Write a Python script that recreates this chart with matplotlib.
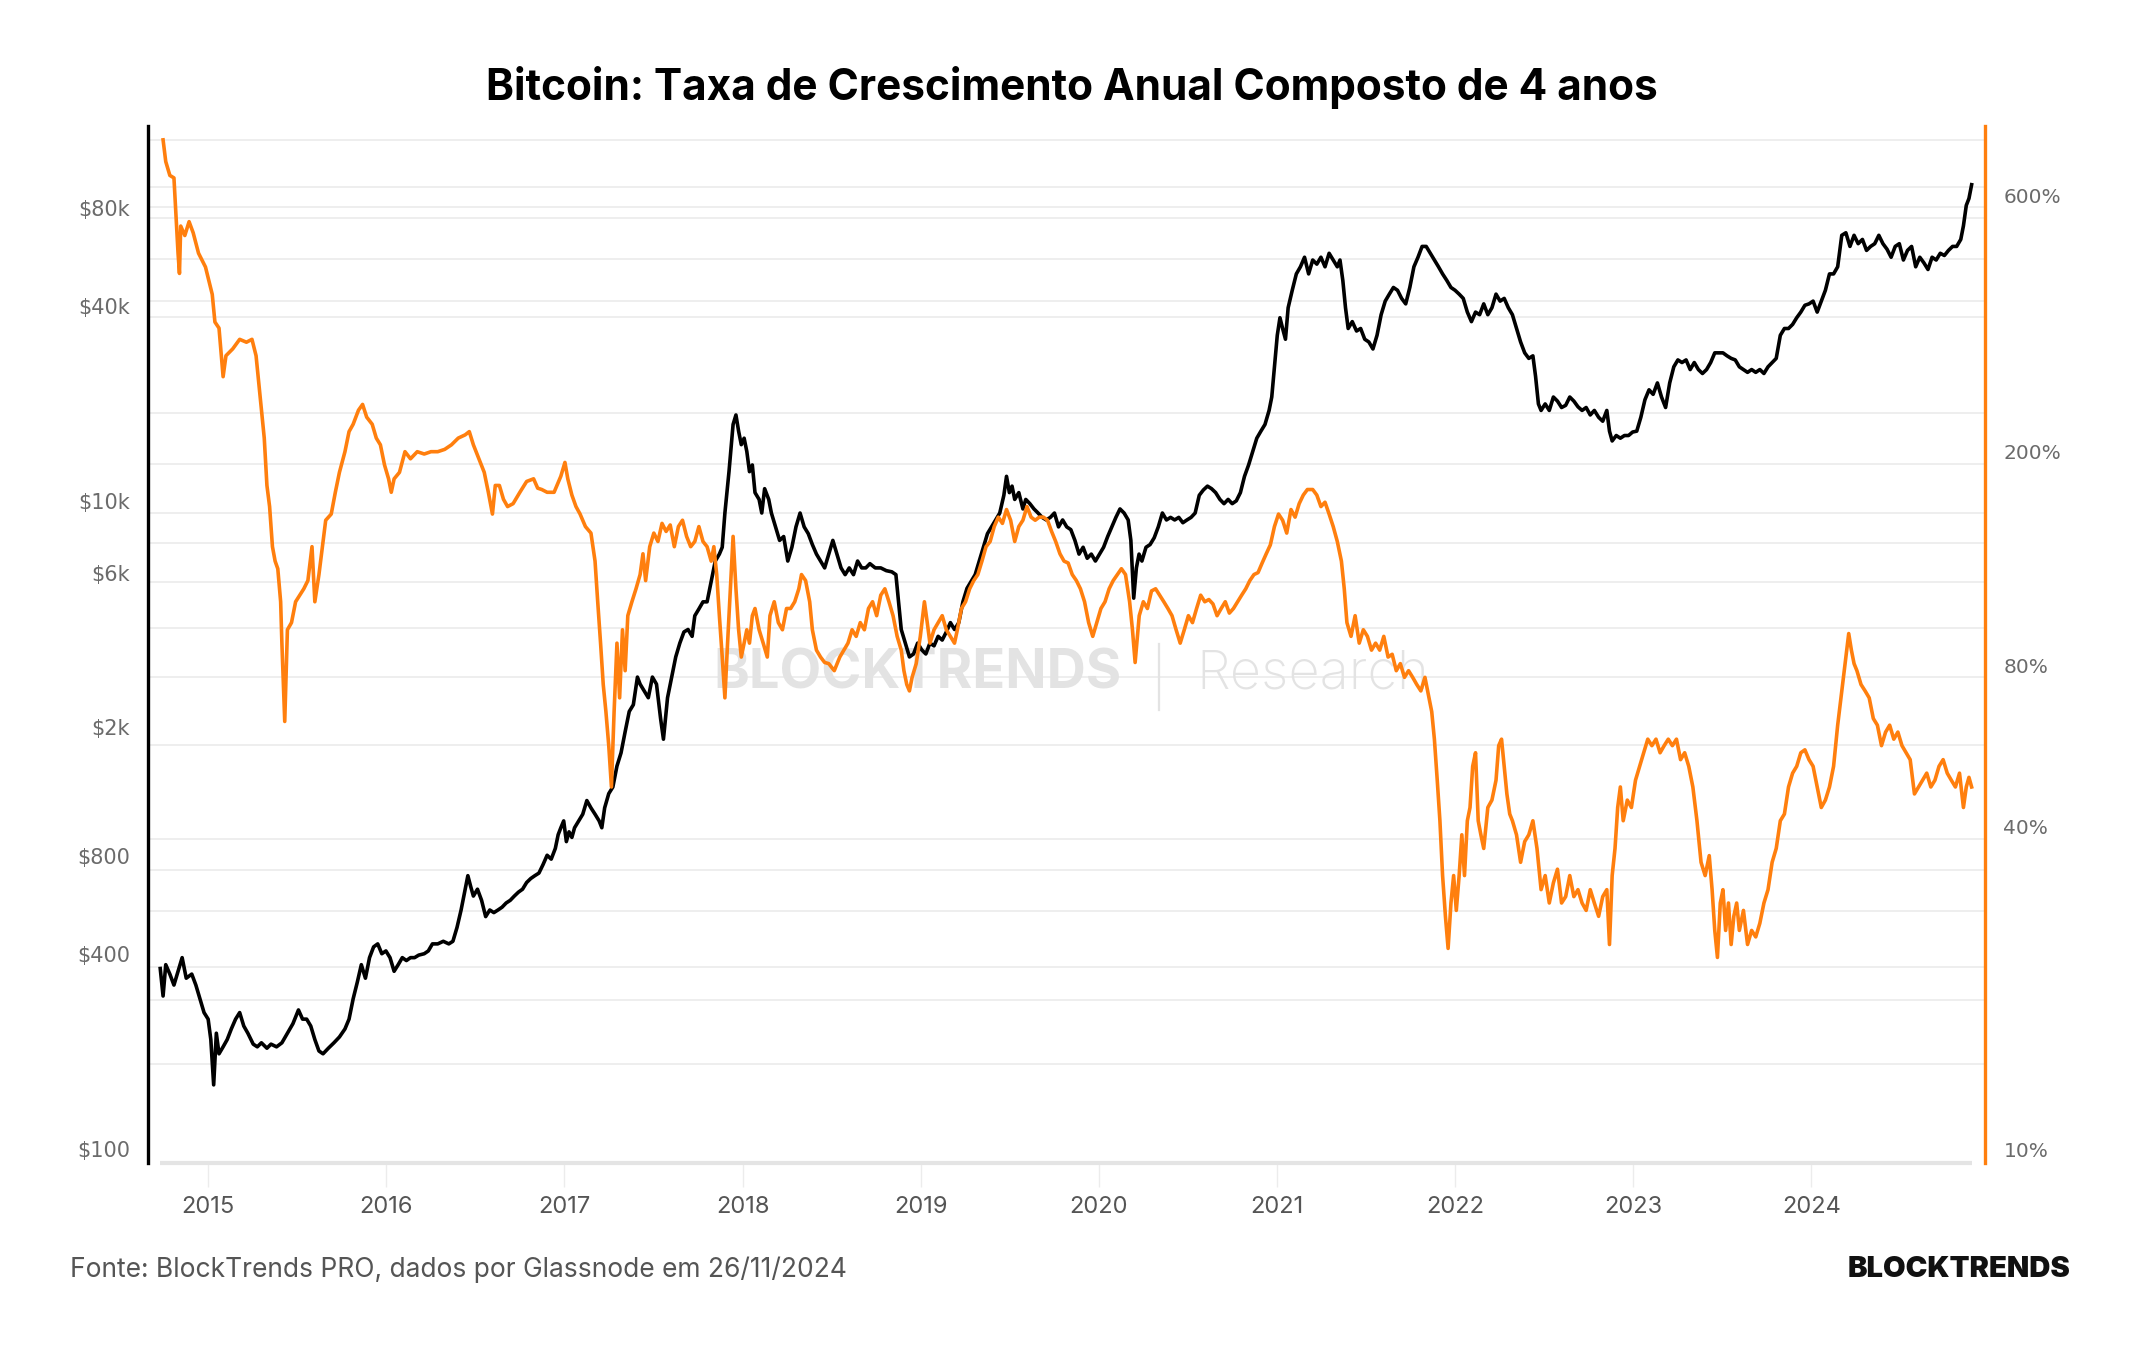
import matplotlib
matplotlib.use("Agg")
import matplotlib.pyplot as plt
from matplotlib.lines import Line2D

# ---------------- data ----------------
btc_dates = [2014.731, 2014.747, 2014.762, 2014.785, 2014.808, 2014.831, 2014.854, 2014.877, 2014.908, 2014.931,
             2014.954, 2014.977, 2015.000, 2015.015, 2015.031, 2015.046, 2015.061, 2015.084, 2015.107, 2015.130,
             2015.154, 2015.177, 2015.200, 2015.223, 2015.253, 2015.276, 2015.299, 2015.330, 2015.353, 2015.384,
             2015.414, 2015.445, 2015.476, 2015.507, 2015.530, 2015.553, 2015.576, 2015.599, 2015.622, 2015.645,
             2015.675, 2015.706, 2015.737, 2015.768, 2015.791, 2015.814, 2015.837, 2015.860, 2015.883, 2015.906,
             2015.929, 2015.952, 2015.975, 2015.998, 2016.021, 2016.044, 2016.067, 2016.090, 2016.113, 2016.136,
             2016.159, 2016.182, 2016.213, 2016.236, 2016.259, 2016.289, 2016.320, 2016.351, 2016.374, 2016.397,
             2016.420, 2016.443, 2016.458, 2016.474, 2016.489, 2016.512, 2016.535, 2016.558, 2016.581, 2016.604,
             2016.627, 2016.650, 2016.673, 2016.696, 2016.719, 2016.742, 2016.765, 2016.788, 2016.811, 2016.834,
             2016.857, 2016.880, 2016.903, 2016.926, 2016.949, 2016.965, 2016.980, 2016.996, 2017.011, 2017.026,
             2017.042, 2017.057, 2017.080, 2017.103, 2017.126, 2017.149, 2017.172, 2017.195, 2017.210, 2017.226,
             2017.249, 2017.272, 2017.295, 2017.318, 2017.341, 2017.364, 2017.387, 2017.410, 2017.425, 2017.448,
             2017.471, 2017.494, 2017.517, 2017.540, 2017.556, 2017.579, 2017.602, 2017.625, 2017.648, 2017.671,
             2017.694, 2017.717, 2017.732, 2017.755, 2017.778, 2017.801, 2017.824, 2017.847, 2017.870, 2017.886,
             2017.901, 2017.924, 2017.947, 2017.963, 2017.978, 2017.993, 2018.009, 2018.024, 2018.039, 2018.055,
             2018.070, 2018.093, 2018.108, 2018.124, 2018.147, 2018.162, 2018.185, 2018.208, 2018.231, 2018.254,
             2018.277, 2018.300, 2018.323, 2018.346, 2018.369, 2018.392, 2018.415, 2018.438, 2018.461, 2018.484,
             2018.507, 2018.530, 2018.553, 2018.576, 2018.599, 2018.623, 2018.646, 2018.669, 2018.692, 2018.715,
             2018.745, 2018.776, 2018.807, 2018.838, 2018.861, 2018.876, 2018.891, 2018.914, 2018.937, 2018.960,
             2018.983, 2019.006, 2019.029, 2019.052, 2019.075, 2019.098, 2019.121, 2019.144, 2019.167, 2019.190,
             2019.214, 2019.237, 2019.260, 2019.283, 2019.306, 2019.329, 2019.352, 2019.375, 2019.398, 2019.421,
             2019.444, 2019.467, 2019.482, 2019.498, 2019.513, 2019.528, 2019.551, 2019.574, 2019.590, 2019.613,
             2019.636, 2019.659, 2019.682, 2019.705, 2019.728, 2019.751, 2019.774, 2019.797, 2019.820, 2019.843,
             2019.866, 2019.889, 2019.912, 2019.935, 2019.958, 2019.981, 2020.004, 2020.027, 2020.050, 2020.073,
             2020.096, 2020.119, 2020.142, 2020.165, 2020.180, 2020.196, 2020.211, 2020.226, 2020.242, 2020.265,
             2020.288, 2020.311, 2020.334, 2020.357, 2020.380, 2020.403, 2020.426, 2020.449, 2020.472, 2020.495,
             2020.518, 2020.541, 2020.564, 2020.587, 2020.610, 2020.633, 2020.656, 2020.680, 2020.703, 2020.726,
             2020.749, 2020.772, 2020.795, 2020.818, 2020.841, 2020.864, 2020.887, 2020.910, 2020.933, 2020.956,
             2020.971, 2020.986, 2021.002, 2021.017, 2021.032, 2021.048, 2021.063, 2021.086, 2021.109, 2021.132,
             2021.155, 2021.178, 2021.201, 2021.224, 2021.247, 2021.270, 2021.293, 2021.316, 2021.339, 2021.354,
             2021.370, 2021.385, 2021.400, 2021.423, 2021.447, 2021.470, 2021.493, 2021.516, 2021.539, 2021.562,
             2021.585, 2021.608, 2021.631, 2021.654, 2021.677, 2021.700, 2021.723, 2021.746, 2021.769, 2021.792,
             2021.815, 2021.838, 2021.861, 2021.884, 2021.907, 2021.930, 2021.954, 2021.977, 2022.000, 2022.023,
             2022.046, 2022.069, 2022.092, 2022.115, 2022.138, 2022.161, 2022.184, 2022.207, 2022.230, 2022.253,
             2022.276, 2022.299, 2022.322, 2022.345, 2022.368, 2022.391, 2022.414, 2022.437, 2022.452, 2022.468,
             2022.483, 2022.506, 2022.529, 2022.552, 2022.575, 2022.598, 2022.621, 2022.644, 2022.667, 2022.690,
             2022.713, 2022.736, 2022.759, 2022.782, 2022.806, 2022.829, 2022.852, 2022.867, 2022.882, 2022.905,
             2022.928, 2022.951, 2022.974, 2022.997, 2023.020, 2023.043, 2023.066, 2023.089, 2023.112, 2023.136,
             2023.159, 2023.182, 2023.205, 2023.228, 2023.251, 2023.274, 2023.297, 2023.320, 2023.343, 2023.366,
             2023.389, 2023.412, 2023.435, 2023.458, 2023.481, 2023.504, 2023.527, 2023.550, 2023.573, 2023.596,
             2023.619, 2023.642, 2023.665, 2023.688, 2023.711, 2023.734, 2023.757, 2023.780, 2023.803, 2023.826,
             2023.849, 2023.872, 2023.895, 2023.918, 2023.941, 2023.964, 2023.987, 2024.010, 2024.033, 2024.056,
             2024.079, 2024.102, 2024.125, 2024.148, 2024.171, 2024.194, 2024.217, 2024.240, 2024.263, 2024.287,
             2024.310, 2024.333, 2024.356, 2024.379, 2024.402, 2024.425, 2024.448, 2024.471, 2024.494, 2024.517,
             2024.540, 2024.563, 2024.586, 2024.609, 2024.632, 2024.655, 2024.678, 2024.701, 2024.724, 2024.747,
             2024.770, 2024.793, 2024.816, 2024.839, 2024.854, 2024.870, 2024.885, 2024.900]

btc_price = [361, 297, 371, 347, 321, 354, 390, 337, 347, 321,
             291, 264, 252, 218, 158, 228, 197, 207, 218, 235,
             252, 264, 240, 228, 211, 207, 213, 205, 211, 207,
             213, 228, 244, 269, 252, 252, 240, 218, 201, 197,
             205, 213, 222, 235, 252, 291, 327, 371, 337, 390,
             421, 430, 401, 409, 390, 354, 371, 390, 382, 390,
             390, 397, 401, 409, 430, 430, 438, 430, 438, 483,
             547, 634, 698, 646, 604, 634, 586, 522, 547, 537,
             547, 558, 575, 586, 604, 621, 634, 665, 684, 698,
             711, 755, 807, 785, 847, 934, 981, 1030, 889, 953,
             916, 981, 1030, 1080, 1190, 1130, 1080, 1030, 981, 1130,
             1250, 1310, 1520, 1670, 1940, 2240, 2350, 2860, 2720, 2590,
             2470, 2860, 2720, 2130, 1840, 2470, 2860, 3300, 3640, 3940,
             4010, 3820, 4420, 4640, 4880, 4880, 5640, 6520, 6850, 7190,
             9170, 12300, 17200, 18400, 16400, 14900, 15600, 14200, 12300, 12900,
             10600, 10100, 9170, 10900, 10100, 9170, 8310, 7550, 7760, 6520,
             7190, 8310, 9170, 8310, 7920, 7330, 6850, 6520, 6210, 6850,
             7550, 6850, 6210, 5920, 6210, 5920, 6520, 6210, 6210, 6400,
             6210, 6210, 6090, 6040, 5920, 4880, 4010, 3640, 3300, 3370,
             3640, 3470, 3370, 3640, 3570, 3820, 3720, 3940, 4210, 4010,
             4210, 4880, 5370, 5640, 5920, 6520, 7190, 7920, 8310, 8730,
             9170, 10400, 11900, 10600, 11100, 10100, 10600, 9440, 10100, 9800,
             9440, 9170, 8890, 8730, 8890, 9170, 8310, 8730, 8310, 8150,
             7550, 6850, 7190, 6650, 6850, 6520, 6850, 7190, 7760, 8310,
             8890, 9440, 9170, 8730, 7550, 5010, 6210, 6850, 6520, 7190,
             7330, 7690, 8310, 9170, 8730, 8890, 8730, 8890, 8560, 8730,
             8890, 9170, 10400, 10800, 11100, 10900, 10600, 10100, 9800, 10100,
             9800, 10000, 10600, 11900, 12900, 14200, 15600, 16400, 17200, 19000,
             20900, 25900, 32400, 36700, 34000, 31500, 39400, 44600, 50100, 52700,
             56400, 50100, 55300, 53700, 56400, 52700, 58000, 55300, 52700, 55300,
             47800, 39400, 34000, 35700, 33400, 34000, 31500, 30900, 29400, 32400,
             37500, 41300, 43400, 45500, 44600, 42100, 40500, 45500, 52700, 56400,
             60900, 60900, 58000, 55300, 52700, 50100, 47800, 45500, 44600, 43400,
             42100, 38200, 35700, 38200, 37500, 40500, 37500, 39400, 43400, 41300,
             42100, 39400, 37500, 34000, 30900, 28600, 27500, 28000, 24200, 19900,
             19000, 19900, 19000, 20900, 20300, 19400, 19700, 20900, 20300, 19500,
             19000, 19400, 18400, 19000, 18100, 17600, 19000, 16400, 15300, 15900,
             15600, 15900, 15900, 16300, 16400, 18100, 20500, 22000, 21300, 23100,
             20900, 19400, 23100, 25900, 27200, 26700, 27200, 25400, 26700, 25400,
             24700, 25400, 26700, 28600, 28600, 28600, 28000, 27500, 27200, 25900,
             25400, 24900, 25400, 24900, 25400, 24700, 25900, 26700, 27500, 32400,
             34000, 34000, 35000, 36700, 38200, 40100, 40500, 41300, 38200, 41300,
             44600, 50100, 50100, 52700, 65900, 67100, 60900, 65900, 62100, 64000,
             59200, 60900, 62100, 65900, 62100, 59700, 56400, 60900, 62100, 55300,
             59200, 60900, 52700, 56400, 54200, 51700, 56400, 55300, 58000, 57100,
             59200, 60900, 60900, 64000, 70500, 81500, 85600, 94400]

cagr_dates = [2014.747, 2014.762, 2014.785, 2014.808, 2014.831, 2014.839, 2014.846, 2014.869, 2014.893, 2014.916,
              2014.946, 2014.985, 2015.023, 2015.038, 2015.061, 2015.084, 2015.100, 2015.138, 2015.177, 2015.215,
              2015.246, 2015.269, 2015.292, 2015.315, 2015.330, 2015.345, 2015.361, 2015.376, 2015.391, 2015.407,
              2015.414, 2015.430, 2015.445, 2015.468, 2015.491, 2015.514, 2015.537, 2015.560, 2015.583, 2015.599,
              2015.622, 2015.645, 2015.660, 2015.691, 2015.714, 2015.737, 2015.768, 2015.791, 2015.814, 2015.844,
              2015.867, 2015.890, 2015.921, 2015.944, 2015.967, 2015.990, 2016.013, 2016.028, 2016.044, 2016.074,
              2016.105, 2016.136, 2016.174, 2016.213, 2016.251, 2016.289, 2016.328, 2016.366, 2016.404, 2016.443,
              2016.466, 2016.489, 2016.520, 2016.550, 2016.573, 2016.596, 2016.612, 2016.635, 2016.658, 2016.681,
              2016.712, 2016.750, 2016.788, 2016.827, 2016.850, 2016.873, 2016.903, 2016.942, 2016.980, 2017.003,
              2017.019, 2017.042, 2017.065, 2017.088, 2017.118, 2017.149, 2017.172, 2017.187, 2017.203, 2017.218,
              2017.233, 2017.249, 2017.264, 2017.279, 2017.295, 2017.310, 2017.326, 2017.341, 2017.356, 2017.379,
              2017.402, 2017.425, 2017.441, 2017.456, 2017.479, 2017.502, 2017.525, 2017.548, 2017.571, 2017.594,
              2017.617, 2017.640, 2017.663, 2017.686, 2017.709, 2017.732, 2017.755, 2017.778, 2017.801, 2017.824,
              2017.839, 2017.855, 2017.870, 2017.886, 2017.901, 2017.916, 2017.932, 2017.947, 2017.963, 2017.978,
              2017.993, 2018.009, 2018.024, 2018.039, 2018.055, 2018.070, 2018.093, 2018.116, 2018.139, 2018.154,
              2018.178, 2018.201, 2018.224, 2018.247, 2018.270, 2018.293, 2018.316, 2018.331, 2018.354, 2018.377,
              2018.392, 2018.415, 2018.438, 2018.461, 2018.484, 2018.515, 2018.546, 2018.569, 2018.592, 2018.615,
              2018.638, 2018.661, 2018.684, 2018.707, 2018.730, 2018.753, 2018.776, 2018.799, 2018.822, 2018.845,
              2018.868, 2018.891, 2018.906, 2018.922, 2018.937, 2018.952, 2018.975, 2018.998, 2019.021, 2019.037,
              2019.052, 2019.075, 2019.098, 2019.121, 2019.144, 2019.167, 2019.190, 2019.206, 2019.229, 2019.252,
              2019.275, 2019.298, 2019.321, 2019.344, 2019.367, 2019.390, 2019.413, 2019.436, 2019.459, 2019.482,
              2019.505, 2019.528, 2019.551, 2019.574, 2019.597, 2019.620, 2019.643, 2019.666, 2019.689, 2019.712,
              2019.735, 2019.758, 2019.782, 2019.805, 2019.828, 2019.851, 2019.874, 2019.897, 2019.920, 2019.943,
              2019.966, 2019.989, 2020.012, 2020.035, 2020.058, 2020.081, 2020.104, 2020.127, 2020.150, 2020.173,
              2020.189, 2020.204, 2020.227, 2020.250, 2020.273, 2020.296, 2020.319, 2020.342, 2020.365, 2020.388,
              2020.411, 2020.434, 2020.457, 2020.480, 2020.503, 2020.526, 2020.549, 2020.572, 2020.595, 2020.618,
              2020.641, 2020.664, 2020.687, 2020.710, 2020.733, 2020.756, 2020.779, 2020.802, 2020.825, 2020.848,
              2020.871, 2020.894, 2020.917, 2020.940, 2020.963, 2020.986, 2021.009, 2021.032, 2021.055, 2021.079,
              2021.102, 2021.125, 2021.148, 2021.171, 2021.201, 2021.224, 2021.247, 2021.270, 2021.293, 2021.316,
              2021.339, 2021.362, 2021.378, 2021.393, 2021.416, 2021.439, 2021.462, 2021.485, 2021.508, 2021.531,
              2021.554, 2021.577, 2021.600, 2021.624, 2021.647, 2021.670, 2021.693, 2021.716, 2021.739, 2021.762,
              2021.785, 2021.808, 2021.831, 2021.854, 2021.869, 2021.884, 2021.900, 2021.915, 2021.930, 2021.946,
              2021.961, 2021.977, 2021.992, 2022.007, 2022.023, 2022.038, 2022.053, 2022.069, 2022.084, 2022.099,
              2022.115, 2022.130, 2022.145, 2022.161, 2022.184, 2022.207, 2022.230, 2022.245, 2022.261, 2022.276,
              2022.291, 2022.307, 2022.322, 2022.345, 2022.368, 2022.391, 2022.414, 2022.437, 2022.460, 2022.483,
              2022.506, 2022.529, 2022.552, 2022.575, 2022.598, 2022.621, 2022.644, 2022.667, 2022.690, 2022.713,
              2022.736, 2022.759, 2022.782, 2022.806, 2022.829, 2022.852, 2022.867, 2022.882, 2022.898, 2022.913,
              2022.928, 2022.944, 2022.967, 2022.990, 2023.013, 2023.036, 2023.059, 2023.082, 2023.105, 2023.128,
              2023.151, 2023.174, 2023.197, 2023.220, 2023.243, 2023.266, 2023.289, 2023.312, 2023.335, 2023.358,
              2023.381, 2023.404, 2023.427, 2023.443, 2023.458, 2023.473, 2023.489, 2023.504, 2023.519, 2023.535,
              2023.550, 2023.565, 2023.581, 2023.596, 2023.619, 2023.642, 2023.665, 2023.688, 2023.711, 2023.734,
              2023.757, 2023.780, 2023.803, 2023.826, 2023.849, 2023.872, 2023.895, 2023.918, 2023.941, 2023.964,
              2023.987, 2024.010, 2024.033, 2024.056, 2024.079, 2024.102, 2024.125, 2024.148, 2024.171, 2024.194,
              2024.210, 2024.225, 2024.240, 2024.256, 2024.279, 2024.302, 2024.325, 2024.348, 2024.371, 2024.394,
              2024.417, 2024.440, 2024.463, 2024.486, 2024.509, 2024.532, 2024.555, 2024.579, 2024.602, 2024.625,
              2024.648, 2024.671, 2024.694, 2024.717, 2024.740, 2024.763, 2024.786, 2024.809, 2024.832, 2024.854,
              2024.870, 2024.885, 2024.900]

cagr_pct = [763, 695, 655, 648, 469, 430, 527, 506, 537, 512,
            469, 442, 393, 349, 340, 276, 302, 311, 324, 320,
            324, 302, 253, 212, 173, 158, 133, 125, 121, 105,
            87.9, 62.8, 93.1, 96.0, 105, 108, 111, 115, 133, 105,
            118, 136, 149, 153, 168, 183, 200, 218, 225, 239,
            245, 232, 225, 212, 206, 189, 178, 168, 178, 183,
            200, 194, 200, 198, 200, 200, 202, 206, 212, 215,
            218, 206, 194, 183, 168, 153, 173, 173, 163, 158,
            160, 168, 176, 178, 171, 170, 168, 168, 180, 191,
            178, 166, 158, 153, 145, 141, 125, 105, 87.9, 73.6,
            65.5, 56.6, 47.4, 65.5, 87.9, 69.5, 93.1, 78.1, 98.9, 105,
            111, 118, 129, 115, 133, 141, 136, 147, 142, 146,
            133, 145, 149, 139, 133, 136, 145, 136, 133, 125,
            133, 118, 98.9, 82.8, 69.5, 87.9, 111, 139, 111, 93.1,
            82.8, 87.9, 93.1, 87.9, 98.9, 102, 93.1, 87.9, 82.8, 98.9,
            105, 96.0, 93.1, 102, 102, 105, 111, 118, 115, 105,
            93.1, 85.3, 82.8, 80.9, 80.5, 78.1, 82.8, 85.3, 87.9, 93.1,
            90.5, 96.0, 93.1, 102, 105, 98.9, 108, 111, 105, 98.9,
            90.5, 85.3, 78.1, 73.6, 71.6, 75.9, 80.5, 90.5, 105, 96.0,
            87.9, 93.1, 96.0, 98.9, 93.1, 90.5, 87.9, 93.1, 102, 105,
            111, 115, 118, 125, 133, 136, 145, 151, 147, 156,
            149, 136, 145, 149, 158, 151, 149, 151, 151, 149,
            142, 136, 129, 125, 124, 118, 115, 111, 105, 96.0,
            90.5, 96.0, 102, 105, 111, 115, 118, 121, 118, 105,
            93.1, 80.9, 98.9, 105, 102, 110, 111, 108, 105, 102,
            98.9, 93.1, 87.9, 93.1, 98.9, 96.0, 102, 108, 105, 106,
            104, 98.9, 102, 105, 100, 102, 105, 108, 111, 115,
            118, 119, 124, 129, 134, 145, 153, 149, 141, 156,
            151, 160, 166, 170, 170, 166, 158, 161, 153, 145,
            136, 125, 111, 96.0, 90.5, 98.9, 87.9, 93.1, 90.5, 85.3,
            87.9, 85.3, 90.5, 82.8, 83.8, 78.1, 80.5, 75.9, 78.1, 75.9,
            73.6, 71.6, 75.9, 69.5, 65.5, 58.2, 48.8, 41.0, 32.4, 27.2,
            23.7, 28.8, 32.4, 27.9, 32.4, 38.6, 32.4, 41.0, 43.4, 51.8,
            54.9, 41.0, 38.6, 36.4, 43.4, 44.8, 48.8, 56.6, 58.2, 51.8,
            46.0, 42.2, 41.0, 38.6, 34.3, 37.5, 38.6, 41.0, 36.4, 30.5,
            32.4, 28.8, 31.4, 33.3, 28.8, 29.6, 32.4, 29.6, 30.5, 28.8,
            27.9, 30.5, 28.8, 27.2, 29.6, 30.5, 24.1, 32.4, 36.4, 43.4,
            47.4, 41.0, 44.8, 43.4, 48.8, 51.8, 54.9, 58.2, 56.6, 58.2,
            54.9, 56.6, 58.2, 56.6, 58.2, 53.3, 54.9, 51.8, 47.4, 41.0,
            34.3, 32.4, 35.3, 30.5, 25.6, 22.8, 28.8, 30.5, 25.6, 28.8,
            24.1, 27.2, 28.8, 25.6, 27.9, 24.1, 25.6, 24.9, 26.4, 28.8,
            30.5, 34.3, 36.4, 41.0, 42.2, 47.4, 50.3, 51.8, 54.9, 55.6,
            53.3, 51.8, 47.4, 43.4, 44.8, 47.4, 51.8, 61.8, 71.6, 82.8,
            91.6, 85.3, 80.5, 78.1, 73.6, 71.6, 69.5, 63.6, 61.8, 56.6,
            60.0, 61.8, 58.2, 60.0, 56.6, 54.9, 53.3, 46.0, 47.4, 48.8,
            50.3, 47.4, 48.8, 51.8, 53.3, 50.3, 48.8, 47.4, 50.3, 43.4,
            47.4, 49.4, 47.4]

years = [2015, 2016, 2017, 2018, 2019, 2020, 2021, 2022, 2023, 2024]
price_ticks = [100, 400, 800, 2000, 6000, 10000, 40000, 80000]
price_labels = ["$100", "$400", "$800", "$2k", "$6k", "$10k", "$40k", "$80k"]
pct_ticks = [10, 40, 80, 200, 600]
pct_labels = ["10%", "40%", "80%", "200%", "600%"]
grid_levels = [130000, 92600, 80700, 74700, 55800, 41300, 37000, 18600, 13000, 9200, 7400,
               5600, 4060, 2860, 1770, 908, 726, 542, 364, 288, 183]

title = "Bitcoin: Taxa de Crescimento Anual Composto de 4 anos"
source = "Fonte: BlockTrends PRO, dados por Glassnode em 26/11/2024"

# ---------------- styling ----------------
ORANGE = "#ff7f0e"
GRID = "#eeeeee"
TICKCOL = "#6b6b6b"

fig = plt.figure(figsize=(21.44, 13.5), dpi=100)
fig.patch.set_facecolor("white")
ax = fig.add_axes([0.069, 0.1385, 0.857, 0.768])
ax2 = ax.twinx()

ax.set_xlim(2014.662, 2024.977)
ax.set_yscale("log")
ax.set_ylim(90.7, 143000)
ax2.set_yscale("log")
ax2.set_ylim(9.43, 809)

# gridlines
for g in grid_levels:
    ax.axhline(g, color=GRID, lw=1.4, zorder=0)

# watermark
ax.text(0.4186, 0.4716, "BLOCKTRENDS", transform=ax.transAxes, ha="center", va="center",
        fontsize=39, fontweight="bold", family="Inter", color="#e3e3e3", zorder=0.5)
ax.add_line(Line2D([0.5504, 0.5504], [0.437, 0.501], transform=ax.transAxes,
                   color="#e3e3e3", lw=1.6, zorder=0.5))
ax.text(0.5705, 0.4716, "Research", transform=ax.transAxes, ha="left", va="center",
        fontsize=39, fontweight="light", family="Inter", color="#e3e3e3", zorder=0.5)

# series
ax.plot(btc_dates, btc_price, color="black", lw=2.6, zorder=3, solid_joinstyle="round")
ax2.plot(cagr_dates, cagr_pct, color=ORANGE, lw=2.6, zorder=3, solid_joinstyle="round")

# baseline under the data
ax.plot([btc_dates[0], btc_dates[-1]], [ax.get_ylim()[0]] * 2, color="#e4e4e4", lw=3,
        clip_on=False, zorder=2, solid_capstyle="butt")

# spines
for s in ["top", "bottom", "right"]:
    ax.spines[s].set_visible(False)
for s in ["top", "bottom", "left"]:
    ax2.spines[s].set_visible(False)
ax.spines["left"].set_color("black")
ax.spines["left"].set_linewidth(2.4)
ax2.spines["right"].set_color(ORANGE)
ax2.spines["right"].set_linewidth(2.4)

# ticks
ax.set_xticks(years)
ax.set_xticklabels([str(y) for y in years], family="Inter", fontsize=17, color="#555555")
ax.tick_params(axis="x", length=17, width=1, color="#ececec", pad=7)

ax.set_yticks(price_ticks)
ax.set_yticklabels(price_labels, family="DejaVu Sans", fontsize=15, color=TICKCOL)
ax.yaxis.set_minor_locator(matplotlib.ticker.NullLocator())
ax.tick_params(axis="y", which="both", length=0, pad=13)

ax2.set_yticks(pct_ticks)
ax2.set_yticklabels(pct_labels, family="DejaVu Sans", fontsize=14.5, color=TICKCOL)
ax2.yaxis.set_minor_locator(matplotlib.ticker.NullLocator())
ax2.tick_params(axis="y", which="both", length=0, pad=13)

# texts
fig.text(0.5, 0.935, title, ha="center", va="center", fontsize=30.5, fontweight="bold",
         family="Inter", color="black")
fig.text(0.0327, 0.0593, source, ha="left", va="center", fontsize=19, family="Inter",
         color="#555555")
fig.text(0.9655, 0.0593, "BLOCKTRENDS", ha="right", va="center", fontsize=21,
         fontweight="black", family="Inter", color="#111111")

fig.savefig("out.png", dpi=100, facecolor="white")
